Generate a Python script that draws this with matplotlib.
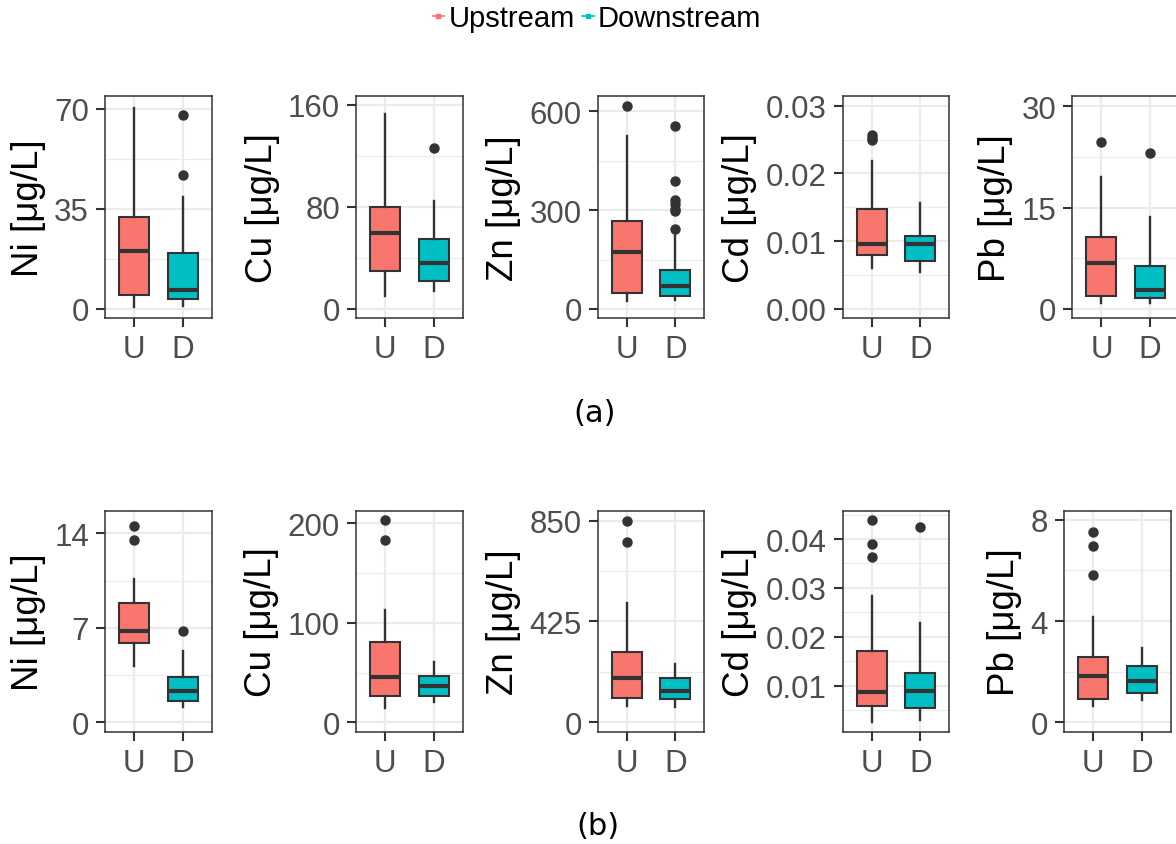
"""
Boxplots of dissolved metal concentrations, upstream vs downstream.
"""

import matplotlib
matplotlib.use('Agg')
import matplotlib.pyplot as plt
from matplotlib.lines import Line2D
from matplotlib.ticker import FixedLocator, FuncFormatter

ELEMENTS = ["Ni", "Cu", "Zn", "Cd", "Pb"]
GROUPS = ["U", "D"]
GROUP_NAMES = ["Upstream", "Downstream"]
GROUP_COLORS = ["#F8766D", "#00BFC4"]

# (a) box statistics per element, [U, D]
A_WHISLO = [[0.8, 0.9], [10.5, 14.1], [24.4, 28.5], [0.0060, 0.0054], [0.84, 0.84]]
A_Q1 = [[4.7, 3.6], [29.8, 22.2], [47.8, 39.7], [0.0080, 0.0071], [1.97, 1.58]]
A_MED = [[20.3, 6.5], [59.3, 36.3], [171.9, 70.0], [0.0096, 0.0096], [6.86, 2.76]]
A_Q3 = [[32.1, 19.7], [80.0, 54.6], [267.5, 117.0], [0.0147, 0.0108], [10.7, 6.31]]
A_WHISHI = [[70.4, 39.1], [152.9, 84.7], [525.8, 228.0], [0.0219, 0.0156], [19.6, 13.57]]
A_FLIERS = [
    [[], [68.0, 46.9]],
    [[], [126.5]],
    [[615.0], [556.0, 387.5, 332.0, 318.0, 305.0, 296.0, 243.0]],
    [[0.0257, 0.0253, 0.0249], []],
    [[24.8], [23.1]],
]
A_TICKS = [[0, 35, 70], [0, 80, 160], [0, 300, 600], [0.0, 0.01, 0.02, 0.03], [0, 15, 30]]
A_YLIM = [(-3.3, 74.4), (-7.3, 166.8), (-28.5, 645.8), (-0.00138, 0.03138), (-1.38, 31.5)]

# (b) box statistics per element, [U, D]
B_WHISLO = [[4.2, 1.11], [14.1, 20.1], [70.2, 66.0], [0.0025, 0.0030], [0.63, 0.89]]
B_Q1 = [[5.88, 1.60], [26.5, 26.8], [102.6, 96.9], [0.0059, 0.0054], [0.92, 1.16]]
B_MED = [[6.74, 2.30], [45.9, 36.9], [188.3, 132.0], [0.0088, 0.0090], [1.84, 1.62]]
B_Q3 = [[8.81, 3.38], [80.7, 46.2], [297.8, 188.3], [0.0170, 0.0125], [2.57, 2.21]]
B_WHISHI = [[10.62, 5.31], [112.9, 61.0], [501.6, 245.9], [0.0284, 0.0228], [4.17, 2.93]]
B_FLIERS = [
    [[14.54, 13.51], [6.79]],
    [[203.4, 183.2], []],
    [[850.0, 758.6], []],
    [[0.0439, 0.0390, 0.0363], [0.0425]],
    [[7.53, 6.95, 5.82], []],
]
B_TICKS = [[0, 7, 14], [0, 100, 200], [0, 425, 850], [0.01, 0.02, 0.03, 0.04], [0, 4, 8]]
B_YLIM = [(-0.74, 15.68), (-10.05, 212.7), (-42.1, 892.0), (0.00046, 0.0458), (-0.39, 8.36)]

W, H = 1176, 845
FONT = "Liberation Sans"
DARK = "#333333"
GRID = "#EBEBEB"

# panel boxes in pixels: left edges per row, common width, top/bottom per row
A_LEFT = [105, 356, 597.7, 842.7, 1072.3]
B_LEFT = [105, 356, 597.7, 842.7, 1064]
PANEL_W = 106.7
A_TOPBOT = (97.3, 319.3)
B_TOPBOT = (511.7, 733.3)


def tick_fmt(ticks):
    if any(t != int(t) for t in ticks):
        return FuncFormatter(lambda v, _: f"{v:.2f}")
    return FuncFormatter(lambda v, _: f"{v:g}")


def draw_panel(fig, left, topbot, name, whislo, q1, med, q3, whishi, fliers, ticks, ylim):
    top, bot = topbot
    ax = fig.add_axes([left / W, 1 - bot / H, PANEL_W / W, (bot - top) / H])
    stats = []
    for i, g in enumerate(GROUPS):
        stats.append({
            'label': g, 'whislo': whislo[i], 'q1': q1[i], 'med': med[i],
            'q3': q3[i], 'whishi': whishi[i], 'fliers': fliers[i],
        })
    parts = ax.bxp(
        stats, positions=[1, 2], widths=0.62, patch_artist=True, showcaps=False,
        boxprops=dict(edgecolor=DARK, linewidth=1.5),
        whiskerprops=dict(color=DARK, linewidth=1.7),
        medianprops=dict(color=DARK, linewidth=3.0, solid_capstyle='butt'),
        flierprops=dict(marker='o', markerfacecolor=DARK, markeredgecolor=DARK, markersize=6.5),
        zorder=3,
    )
    for box, c in zip(parts['boxes'], GROUP_COLORS):
        box.set_facecolor(c)

    ax.set_xlim(0.4, 2.6)
    ax.set_ylim(*ylim)
    ax.yaxis.set_major_locator(FixedLocator(ticks))
    ax.yaxis.set_major_formatter(tick_fmt(ticks))
    minors = [(a + b) / 2 for a, b in zip(ticks[:-1], ticks[1:])]
    step = ticks[1] - ticks[0]
    minors += [ticks[0] - step / 2, ticks[-1] + step / 2]
    ax.yaxis.set_minor_locator(FixedLocator(minors))
    ax.set_xticks([1, 2])
    ax.set_xticklabels(GROUPS)

    ax.grid(True, which='major', color=GRID, linewidth=1.6, zorder=0)
    ax.grid(True, which='minor', axis='y', color=GRID, linewidth=0.8, zorder=0)
    ax.set_axisbelow(True)
    ax.tick_params(which='major', length=6.5, width=1.5, color=DARK, labelsize=22.5,
                   labelcolor="#4D4D4D", pad=5)
    ax.tick_params(which='minor', length=0)
    for lab in ax.get_xticklabels() + ax.get_yticklabels():
        lab.set_fontfamily(FONT)
    for s in ax.spines.values():
        s.set_color(DARK)
        s.set_linewidth(1.1)
    ax.set_ylabel(f"{name} [μg/L]", fontsize=26.5, fontfamily=FONT, color="black", labelpad=6)
    return ax


def main():
    fig = plt.figure(figsize=(W / 100, H / 100), dpi=100)

    for k, name in enumerate(ELEMENTS):
        draw_panel(fig, A_LEFT[k], A_TOPBOT, name, A_WHISLO[k], A_Q1[k], A_MED[k],
                   A_Q3[k], A_WHISHI[k], A_FLIERS[k], A_TICKS[k], A_YLIM[k])
        draw_panel(fig, B_LEFT[k], B_TOPBOT, name, B_WHISLO[k], B_Q1[k], B_MED[k],
                   B_Q3[k], B_WHISHI[k], B_FLIERS[k], B_TICKS[k], B_YLIM[k])

    handles = [Line2D([0], [0], color=c, marker='s', markersize=3, linewidth=1.2)
               for c in GROUP_COLORS]
    fig.legend(handles, GROUP_NAMES, loc='center', bbox_to_anchor=(597 / W, 1 - 19 / H),
               ncol=2, frameon=False, handlelength=0.4, handletextpad=0.15,
               columnspacing=0.25, borderpad=0, prop={'family': FONT, 'size': 21})

    fig.text(595 / W, 1 - 414 / H, "(a)", ha='center', va='center', fontsize=22)
    fig.text(598 / W, 1 - 827 / H, "(b)", ha='center', va='center', fontsize=22)

    fig.savefig("out.png", dpi=100)
    plt.close(fig)


if __name__ == "__main__":
    main()
